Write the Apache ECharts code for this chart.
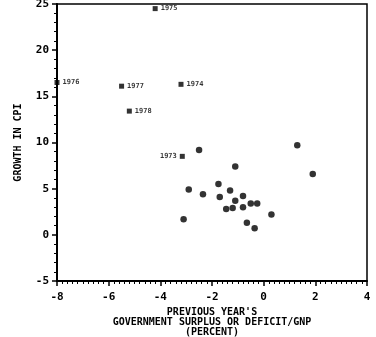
<!DOCTYPE html>
<html>
<head>
<meta charset="utf-8">
<script src="https://cdn.jsdelivr.net/npm/echarts@6/dist/echarts.min.js"></script>
<style>
  html, body { margin: 0; padding: 0; background: #fff; }
  #chart { width: 376px; height: 337px; }
</style>
</head>
<body>
<div id="chart"></div>
<script>
// unlabeled years: [deficit/GNP, CPI growth]
var clusterX = [-2.5, 1.3, 1.9, -1.1, -1.75, -2.9, -2.35, -1.3, -1.7, -0.8, -1.1, -0.5, -0.25, -1.45, -1.2, -0.8, 0.3, -3.1, -0.65, -0.35];
var clusterY = [9.2, 9.7, 6.6, 7.4, 5.5, 4.9, 4.4, 4.8, 4.1, 4.2, 3.7, 3.4, 3.4, 2.8, 2.9, 3.0, 2.2, 1.7, 1.3, 0.7];

// labeled years
var yearNames = ['1975', '1976', '1977', '1974', '1978', '1973'];
var yearX = [-4.2, -8.0, -5.5, -3.2, -5.2, -3.15];
var yearY = [24.5, 16.5, 16.1, 16.3, 13.4, 8.5];
var yearSide = ['right', 'right', 'right', 'right', 'right', 'left'];

var font = 'DejaVu Sans Mono';

var clusterData = [];
for (var i = 0; i < clusterX.length; i++) {
	clusterData.push([clusterX[i], clusterY[i]]);
}
var yearData = [];
for (var i = 0; i < yearNames.length; i++) {
	yearData.push({
		value: [yearX[i], yearY[i]],
		name: yearNames[i],
		label: { position: yearSide[i] }
	});
}

var myChart = echarts.init(document.getElementById('chart'));
var option = {
	animation: false,
	backgroundColor: '#fff',
	grid: {
		left: 57, right: 9, top: 4, bottom: 56,
		containLabel: false,
		outerBoundsMode: 'none',
		show: true,
		borderColor: '#000',
		borderWidth: 1.5
	},
	xAxis: {
		type: 'value',
		min: -8, max: 4, interval: 2,
		name: "PREVIOUS YEAR'S\nGOVERNMENT SURPLUS OR DEFICIT/GNP\n(PERCENT)",
		nameLocation: 'middle',
		nameGap: 26,
		nameTextStyle: {
			color: '#000', fontFamily: font, fontWeight: 'bold', fontSize: 10,
			lineHeight: 10, verticalAlign: 'top'
		},
		axisLine: { onZero: false, lineStyle: { color: '#000', width: 2 } },
		axisTick: { length: 5, lineStyle: { color: '#000', width: 1.5 } },
		minorTick: { show: true, splitNumber: 10, length: 3, lineStyle: { color: '#000', width: 1 } },
		splitLine: { show: false },
		axisLabel: {
			color: '#000', fontFamily: font, fontWeight: 'bold', fontSize: 11, margin: 11
		}
	},
	yAxis: {
		type: 'value',
		min: -5, max: 25, interval: 5,
		name: 'GROWTH IN CPI',
		nameLocation: 'middle',
		nameGap: 34,
		nameTextStyle: { color: '#000', fontFamily: font, fontWeight: 'bold', fontSize: 10 },
		axisLine: { onZero: false, lineStyle: { color: '#000', width: 2 } },
		axisTick: { length: 5, lineStyle: { color: '#000', width: 1.5 } },
		minorTick: { show: true, splitNumber: 5, length: 3, lineStyle: { color: '#000', width: 1 } },
		splitLine: { show: false },
		axisLabel: { color: '#000', fontFamily: font, fontWeight: 'bold', fontSize: 11, margin: 8 }
	},
	series: [
		{
			type: 'scatter',
			data: clusterData,
			symbol: 'circle',
			symbolSize: 6.5,
			itemStyle: { color: '#000' }
		},
		{
			type: 'scatter',
			data: yearData,
			symbol: 'rect',
			symbolSize: 5,
			itemStyle: { color: '#000' },
			label: {
				show: true,
				formatter: '{b}',
				distance: 3,
				color: '#000',
				fontFamily: font,
				fontWeight: 'bold',
				fontSize: 7
			}
		}
	]
};
myChart.setOption(option);
</script>
</body>
</html>
